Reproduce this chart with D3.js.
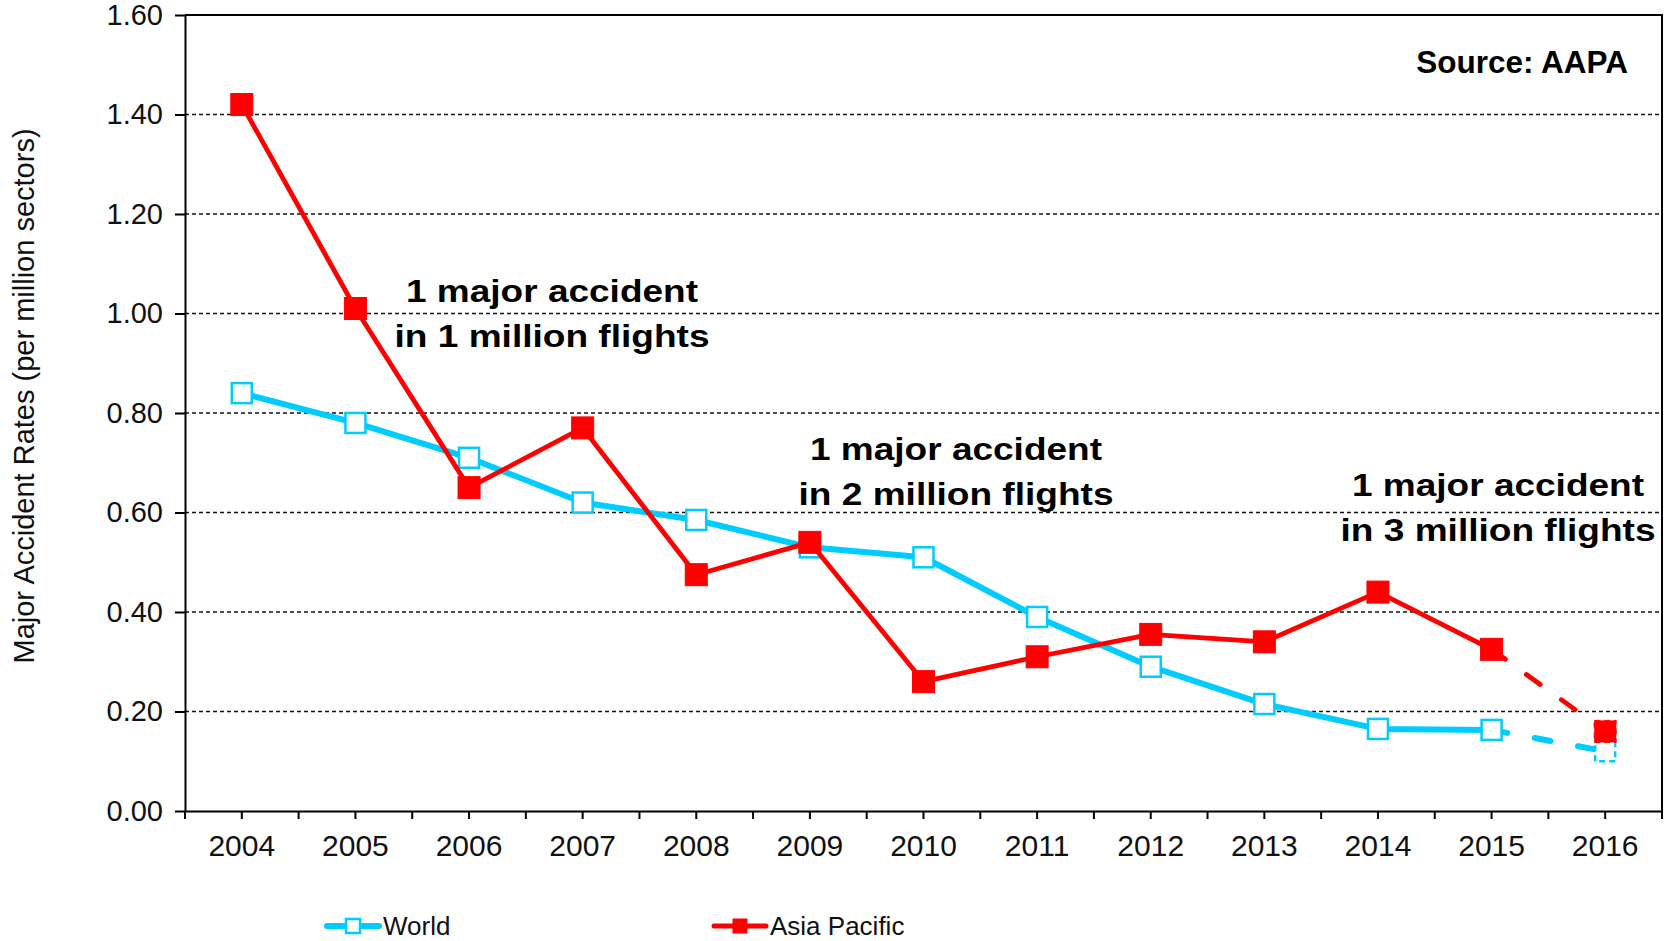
<!DOCTYPE html>
<html>
<head>
<meta charset="utf-8">
<script src="https://cdnjs.cloudflare.com/ajax/libs/d3/7.8.5/d3.min.js"></script>
<style>
  html, body { margin: 0; padding: 0; background: #fff; }
  svg { display: block; font-family: "Liberation Sans", Arial, sans-serif; }
</style>
</head>
<body>
<div id="chart"></div>
<script>
"use strict";

// data
const years = ["2004", "2005", "2006", "2007", "2008", "2009", "2010",
               "2011", "2012", "2013", "2014", "2015", "2016"];
const worldRates = [0.84, 0.78, 0.71, 0.62, 0.585, 0.53, 0.51, 0.39, 0.29, 0.215, 0.165, 0.163, 0.12];
const asiaRates  = [1.42, 1.01, 0.65, 0.77, 0.475, 0.54, 0.26, 0.31, 0.355, 0.34, 0.44, 0.325, 0.16];
const yTicks = [0, 0.2, 0.4, 0.6, 0.8, 1.0, 1.2, 1.4, 1.6];
const seriesNames = ["World", "Asia Pacific"];
const noteLines = [
  ["1 major accident", "in 1 million flights"],
  ["1 major accident", "in 2 million flights"],
  ["1 major accident", "in 3 million flights"]
];
const sourceText = "Source: AAPA";
const yTitle = "Major Accident Rates (per million sectors)";

const FONT = "'Liberation Sans', Arial, sans-serif";
const width = 1667, height = 941;
const margin = {top: 15, right: 5, bottom: 130, left: 185};
const cyan = "#00ccff", red = "#ff0000";

const svg = d3.select("#chart").append("svg")
  .attr("width", width)
  .attr("height", height)
  .attr("font-family", FONT);

const x = d3.scaleBand()
  .domain(years)
  .range([margin.left, width - margin.right]);
const bw = x.bandwidth();
const cx = d => x(d) + bw / 2;

const y = d3.scaleLinear()
  .domain([0, 1.6])
  .range([height - margin.bottom, margin.top]);

// dashed grid
svg.append("g")
  .selectAll("line")
  .data(yTicks.filter(d => d > 0 && d < 1.6))
  .join("line")
    .attr("x1", margin.left)
    .attr("x2", width - margin.right)
    .attr("y1", d => y(d))
    .attr("y2", d => y(d))
    .attr("stroke", "#111")
    .attr("stroke-width", 1.3)
    .attr("stroke-dasharray", "4,3");

// top and right frame
svg.append("path")
  .attr("d", `M${margin.left},${y(1.6)}H${width - margin.right}V${y(0)}`)
  .attr("fill", "none")
  .attr("stroke", "#000")
  .attr("stroke-width", 2);

// y axis
const yAxis = svg.append("g")
  .attr("transform", `translate(${margin.left},0)`)
  .call(d3.axisLeft(y).tickValues(yTicks).tickFormat(d3.format(".2f"))
    .tickSize(10).tickSizeOuter(0).tickPadding(12));
yAxis.selectAll("text").attr("font-size", 29).attr("fill", "#111")
  .attr("font-family", FONT);

// x axis: labels at band centres
const xAxis = svg.append("g")
  .attr("transform", `translate(0,${y(0)})`)
  .call(d3.axisBottom(x).tickSize(8).tickSizeOuter(0).tickPadding(16));
xAxis.selectAll("text").attr("font-size", 30).attr("fill", "#111")
  .attr("font-family", FONT);

// extra ticks on band edges
xAxis.append("g")
  .selectAll("line")
  .data(years.concat(["end"]))
  .join("line")
    .attr("x1", d => d === "end" ? width - margin.right : x(d))
    .attr("x2", d => d === "end" ? width - margin.right : x(d))
    .attr("y1", 0)
    .attr("y2", 8)
    .attr("stroke", "#000");

svg.selectAll(".domain, .tick line").attr("stroke", "#000").attr("stroke-width", 2);
xAxis.selectAll("g > line").attr("stroke-width", 2);

// y title
svg.append("text")
  .attr("transform", "translate(34,396) rotate(-90)")
  .attr("text-anchor", "middle")
  .attr("font-size", 29)
  .attr("fill", "#111")
  .text(yTitle);

const line = d3.line()
  .x(d => cx(d.year))
  .y(d => y(d.v));

function drawSeries(values, color, lw, dash, filled) {
  const pts = years.map((yr, i) => ({year: yr, v: values[i]}));
  const g = svg.append("g");
  g.append("path")
    .datum(pts.slice(0, pts.length - 1))
    .attr("d", line)
    .attr("fill", "none")
    .attr("stroke", color)
    .attr("stroke-width", lw)
    .attr("stroke-linejoin", "round");
  g.append("path")
    .datum(pts.slice(pts.length - 2))
    .attr("d", line)
    .attr("fill", "none")
    .attr("stroke", color)
    .attr("stroke-width", lw)
    .attr("stroke-linecap", "round")
    .attr("stroke-dasharray", dash);
  const s = filled ? 22 : 20;
  g.selectAll("rect")
    .data(pts)
    .join("rect")
      .attr("x", d => cx(d.year) - s / 2)
      .attr("y", d => y(d.v) - s / 2)
      .attr("width", s)
      .attr("height", s)
      .attr("fill", filled ? color : "#fff")
      .attr("stroke", color)
      .attr("stroke-width", filled ? 1 : 2.5)
      .attr("stroke-dasharray", (d, i) => i === pts.length - 1 ? "6,4" : null);
}

drawSeries(worldRates, cyan, 6, "16,28", false);
drawSeries(asiaRates, red, 4.8, "17,26", true);

// annotations
const notePos = [
  {x: 552, y: 302},
  {x: 956, y: 460},
  {x: 1498, y: 496}
];
noteLines.forEach((lines, k) => {
  const t = svg.append("text")
    .attr("text-anchor", "middle")
    .attr("font-size", 32)
    .attr("font-weight", "bold")
    .attr("fill", "#000");
  lines.forEach((ln, j) => {
    t.append("tspan")
      .attr("x", notePos[k].x)
      .attr("y", notePos[k].y + j * 45)
      .attr("textLength", j === 0 ? 292 : 315)
      .attr("lengthAdjust", "spacingAndGlyphs")
      .text(ln);
  });
});

svg.append("text")
  .attr("x", 1628)
  .attr("y", 73)
  .attr("text-anchor", "end")
  .attr("font-size", 31.5)
  .attr("font-weight", "bold")
  .text(sourceText);

// legend
const legend = [
  {name: seriesNames[0], color: cyan, x0: 327, lw: 6, filled: false},
  {name: seriesNames[1], color: red, x0: 714, lw: 5, filled: true}
];
const lg = svg.append("g");
legend.forEach(d => {
  lg.append("line")
    .attr("x1", d.x0).attr("x2", d.x0 + 52)
    .attr("y1", 926).attr("y2", 926)
    .attr("stroke", d.color)
    .attr("stroke-width", d.lw)
    .attr("stroke-linecap", "round");
  lg.append("rect")
    .attr("x", d.x0 + 26 - 7).attr("y", 926 - 7)
    .attr("width", 14).attr("height", 14)
    .attr("fill", d.filled ? d.color : "#fff")
    .attr("stroke", d.color)
    .attr("stroke-width", d.filled ? 1 : 2.5);
  lg.append("text")
    .attr("x", d.x0 + 56)
    .attr("y", 935)
    .attr("font-size", 26)
    .attr("fill", "#111")
    .text(d.name);
});
</script>
</body>
</html>
